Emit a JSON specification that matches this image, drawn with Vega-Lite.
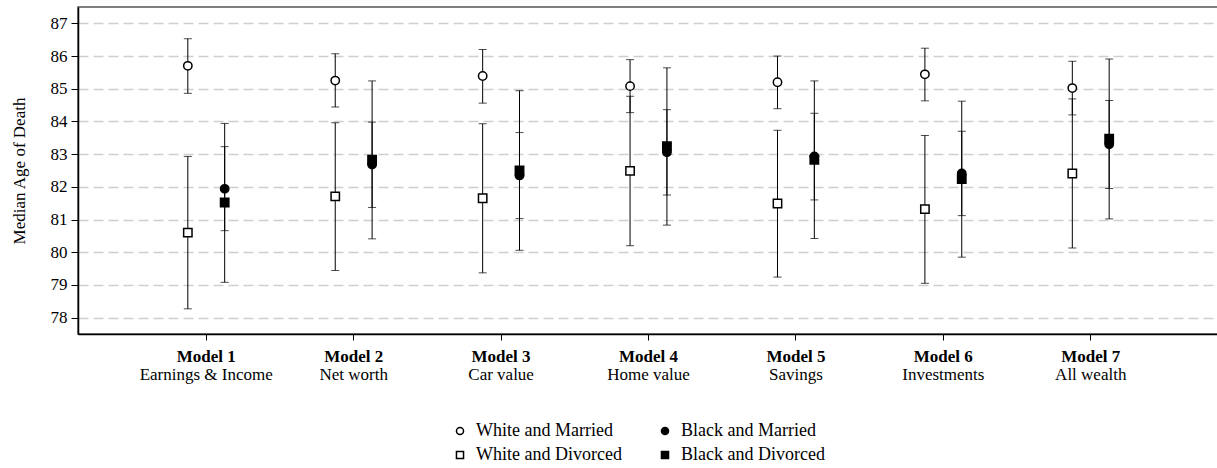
{
  "$schema": "https://vega.github.io/schema/vega-lite/v6.json",
  "autosize": {"type": "none"},
  "padding": {"left": 78, "top": 7, "right": 0, "bottom": 134},
  "width": 1141,
  "height": 327,
  "background": "white",
  "config": {
    "font": "Liberation Serif",
    "view": {"stroke": "#555", "strokeWidth": 1.5},
    "axis": {"labelFont": "Liberation Serif", "titleFont": "Liberation Serif", "labelColor": "black", "titleColor": "black", "domainColor": "black", "tickColor": "black", "labelOverlap": false}
  },
  "data": {"values": [
    {"model": "Model 1", "race": "White", "group": "White and Married", "med": 85.70, "lo": 84.86, "hi": 86.53},
    {"model": "Model 1", "race": "White", "group": "White and Divorced", "med": 80.60, "lo": 78.27, "hi": 82.93},
    {"model": "Model 1", "race": "Black", "group": "Black and Married", "med": 81.94, "lo": 80.66, "hi": 83.23},
    {"model": "Model 1", "race": "Black", "group": "Black and Divorced", "med": 81.52, "lo": 79.08, "hi": 83.94},
    {"model": "Model 2", "race": "White", "group": "White and Married", "med": 85.25, "lo": 84.44, "hi": 86.07},
    {"model": "Model 2", "race": "White", "group": "White and Divorced", "med": 81.71, "lo": 79.44, "hi": 83.96},
    {"model": "Model 2", "race": "Black", "group": "Black and Married", "med": 82.68, "lo": 81.37, "hi": 83.98},
    {"model": "Model 2", "race": "Black", "group": "Black and Divorced", "med": 82.83, "lo": 80.41, "hi": 85.24},
    {"model": "Model 3", "race": "White", "group": "White and Married", "med": 85.39, "lo": 84.56, "hi": 86.20},
    {"model": "Model 3", "race": "White", "group": "White and Divorced", "med": 81.65, "lo": 79.37, "hi": 83.93},
    {"model": "Model 3", "race": "Black", "group": "Black and Married", "med": 82.35, "lo": 81.03, "hi": 83.66},
    {"model": "Model 3", "race": "Black", "group": "Black and Divorced", "med": 82.50, "lo": 80.06, "hi": 84.94},
    {"model": "Model 4", "race": "White", "group": "White and Married", "med": 85.08, "lo": 84.27, "hi": 85.89},
    {"model": "Model 4", "race": "White", "group": "White and Divorced", "med": 82.49, "lo": 80.20, "hi": 84.77},
    {"model": "Model 4", "race": "Black", "group": "Black and Married", "med": 83.06, "lo": 81.75, "hi": 84.36},
    {"model": "Model 4", "race": "Black", "group": "Black and Divorced", "med": 83.24, "lo": 80.83, "hi": 85.64},
    {"model": "Model 5", "race": "White", "group": "White and Married", "med": 85.20, "lo": 84.39, "hi": 86.00},
    {"model": "Model 5", "race": "White", "group": "White and Divorced", "med": 81.49, "lo": 79.24, "hi": 83.73},
    {"model": "Model 5", "race": "Black", "group": "Black and Married", "med": 82.93, "lo": 81.60, "hi": 84.25},
    {"model": "Model 5", "race": "Black", "group": "Black and Divorced", "med": 82.83, "lo": 80.42, "hi": 85.24},
    {"model": "Model 6", "race": "White", "group": "White and Married", "med": 85.44, "lo": 84.63, "hi": 86.24},
    {"model": "Model 6", "race": "White", "group": "White and Divorced", "med": 81.32, "lo": 79.05, "hi": 83.57},
    {"model": "Model 6", "race": "Black", "group": "Black and Married", "med": 82.41, "lo": 81.12, "hi": 83.70},
    {"model": "Model 6", "race": "Black", "group": "Black and Divorced", "med": 82.24, "lo": 79.85, "hi": 84.62},
    {"model": "Model 7", "race": "White", "group": "White and Married", "med": 85.02, "lo": 84.20, "hi": 85.84},
    {"model": "Model 7", "race": "White", "group": "White and Divorced", "med": 82.41, "lo": 80.13, "hi": 84.69},
    {"model": "Model 7", "race": "Black", "group": "Black and Married", "med": 83.30, "lo": 81.95, "hi": 84.64},
    {"model": "Model 7", "race": "Black", "group": "Black and Divorced", "med": 83.47, "lo": 81.02, "hi": 85.91}
  ]},
  "resolve": {"axis": {"x": "independent"}},
  "layer": [
    {
      "mark": {"type": "rule", "color": "black", "strokeWidth": 1},
      "encoding": {
        "x": {"field": "model", "type": "nominal", "scale": {"paddingInner": 0, "paddingOuter": 0.37},
          "axis": {"orient": "bottom", "title": null, "domain": false, "ticks": false, "tickSize": 0, "grid": false, "labelAngle": 0, "labelFontSize": 17, "labelPadding": 32,
            "labelExpr": "datum.value == 'Model 1' ? 'Earnings & Income' : datum.value == 'Model 2' ? 'Net worth' : datum.value == 'Model 3' ? 'Car value' : datum.value == 'Model 4' ? 'Home value' : datum.value == 'Model 5' ? 'Savings' : datum.value == 'Model 6' ? 'Investments' : 'All wealth'"}},
        "xOffset": {"field": "race", "type": "nominal", "scale": {"domain": ["White", "Black"], "paddingInner": 0, "paddingOuter": 1.507}},
        "y": {"field": "lo", "type": "quantitative", "scale": {"domain": [77.5, 87.5], "nice": false, "zero": false},
          "axis": {"title": "Median Age of Death", "titleFontSize": 17, "titleFontWeight": "normal", "titlePadding": 22, "values": [78, 79, 80, 81, 82, 83, 84, 85, 86, 87], "labelFontSize": 17, "tickSize": 7, "labelPadding": 4, "grid": true, "gridDash": [10, 5], "gridColor": "#cfcfcf", "gridWidth": 1.5, "domainWidth": 1.5}},
        "y2": {"field": "hi"}
      }
    },
    {
      "mark": {"type": "tick", "orient": "horizontal", "color": "black", "size": 8, "thickness": 1},
      "encoding": {
        "x": {"field": "model", "type": "nominal", "axis": null},
        "xOffset": {"field": "race", "type": "nominal"},
        "y": {"field": "lo", "type": "quantitative",
          "axis": {"title": "Median Age of Death", "titleFontSize": 17, "titleFontWeight": "normal", "titlePadding": 22, "values": [78, 79, 80, 81, 82, 83, 84, 85, 86, 87], "labelFontSize": 17, "tickSize": 7, "labelPadding": 4, "grid": true, "gridDash": [10, 5], "gridColor": "#cfcfcf", "gridWidth": 1.5, "domainWidth": 1.5}}
      }
    },
    {
      "mark": {"type": "tick", "orient": "horizontal", "color": "black", "size": 8, "thickness": 1},
      "encoding": {
        "x": {"field": "model", "type": "nominal", "axis": null},
        "xOffset": {"field": "race", "type": "nominal"},
        "y": {"field": "hi", "type": "quantitative",
          "axis": {"title": "Median Age of Death", "titleFontSize": 17, "titleFontWeight": "normal", "titlePadding": 22, "values": [78, 79, 80, 81, 82, 83, 84, 85, 86, 87], "labelFontSize": 17, "tickSize": 7, "labelPadding": 4, "grid": true, "gridDash": [10, 5], "gridColor": "#cfcfcf", "gridWidth": 1.5, "domainWidth": 1.5}}
      }
    },
    {
      "mark": {"type": "point", "filled": true, "strokeWidth": 1.5, "opacity": 1, "size": 70},
      "encoding": {
        "x": {"field": "model", "type": "nominal",
          "axis": {"orient": "bottom", "title": null, "labelAngle": 0, "labelFontSize": 17, "labelFontWeight": "bold", "tickSize": 6, "labelPadding": 8, "grid": false, "domainWidth": 1.5}},
        "xOffset": {"field": "race", "type": "nominal"},
        "y": {"field": "med", "type": "quantitative",
          "axis": {"title": "Median Age of Death", "titleFontSize": 17, "titleFontWeight": "normal", "titlePadding": 22, "values": [78, 79, 80, 81, 82, 83, 84, 85, 86, 87], "labelFontSize": 17, "tickSize": 7, "labelPadding": 4, "grid": true, "gridDash": [10, 5], "gridColor": "#cfcfcf", "gridWidth": 1.5, "domainWidth": 1.5}},
        "shape": {"field": "group", "type": "nominal", "scale": {"domain": ["White and Married", "White and Divorced", "Black and Married", "Black and Divorced"], "range": ["circle", "square", "circle", "square"]},
          "legend": {"title": null, "orient": "none", "legendX": 373, "legendY": 415, "columns": 2, "labelFont": "Liberation Serif", "labelFontSize": 18, "labelColor": "black", "symbolSize": 50, "symbolStrokeWidth": 1.5, "labelOffset": 7, "columnPadding": 34, "rowPadding": 6, "padding": 0}},
        "fill": {"field": "group", "type": "nominal", "scale": {"domain": ["White and Married", "White and Divorced", "Black and Married", "Black and Divorced"], "range": ["white", "white", "black", "black"]},
          "legend": {"title": null, "orient": "none", "legendX": 373, "legendY": 415, "columns": 2, "labelFont": "Liberation Serif", "labelFontSize": 18, "labelColor": "black", "symbolSize": 50, "symbolStrokeWidth": 1.5, "labelOffset": 7, "columnPadding": 34, "rowPadding": 6, "padding": 0}},
        "stroke": {"field": "group", "type": "nominal", "scale": {"domain": ["White and Married", "White and Divorced", "Black and Married", "Black and Divorced"], "range": ["black", "black", "black", "black"]},
          "legend": {"title": null, "orient": "none", "legendX": 373, "legendY": 415, "columns": 2, "labelFont": "Liberation Serif", "labelFontSize": 18, "labelColor": "black", "symbolSize": 50, "symbolStrokeWidth": 1.5, "labelOffset": 7, "columnPadding": 34, "rowPadding": 6, "padding": 0}}
      }
    }
  ]
}
